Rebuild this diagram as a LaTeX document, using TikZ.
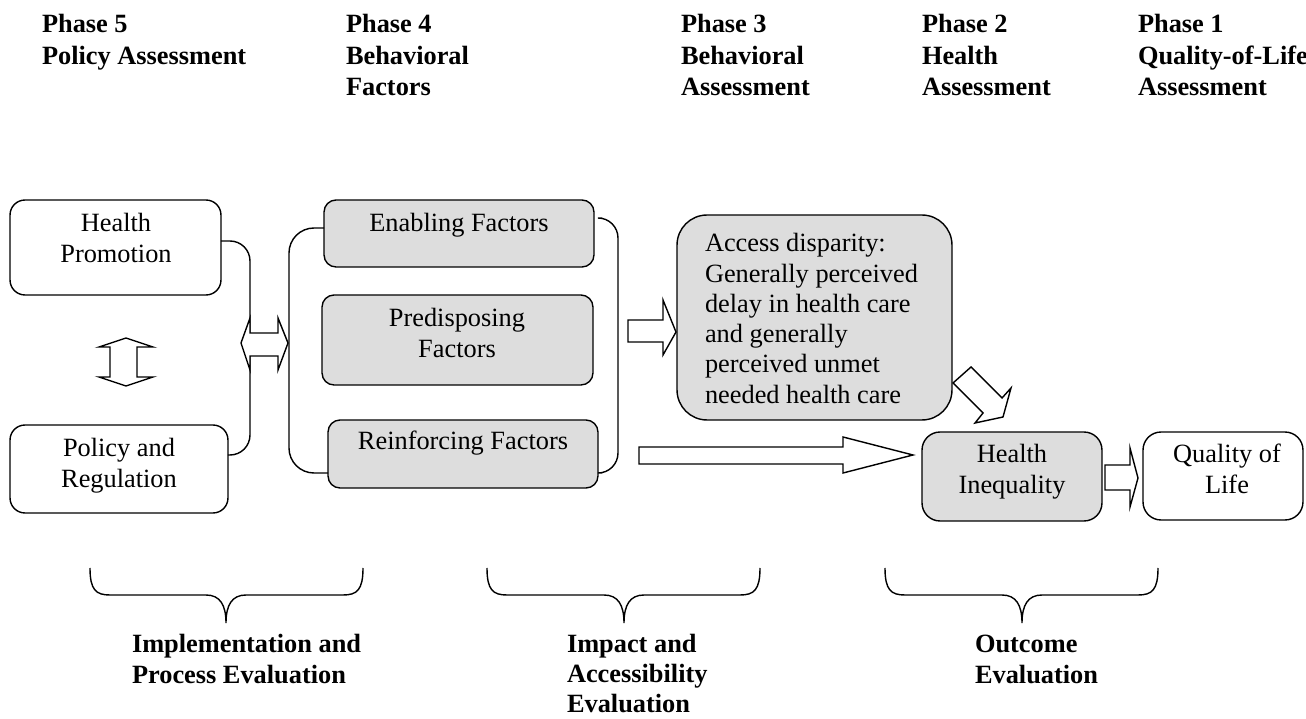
\documentclass[tikz,border=0pt]{standalone}
\usepackage{fontspec}
\setmainfont{Liberation Serif}
\definecolor{boxgray}{RGB}{221,221,221}
\newcommand\mlc[1]{\begin{tabular}[t]{@{}c@{}}#1\end{tabular}}
\newcommand\mll[1]{\begin{tabular}[t]{@{}l@{}}#1\end{tabular}}
\newcommand\evbrace[3]{\draw[conn] (#1,568) .. controls (#1,590) and (#1+6,595) .. (#1+20,595) -- (#3-20,595) .. controls (#3-6,595) and (#3,605) .. (#3,623) .. controls (#3,605) and (#3+6,595) .. (#3+20,595) -- (#2-20,595) .. controls (#2-6,595) and (#2,590) .. (#2,568);}
\begin{document}
\begin{tikzpicture}[x=0.02cm,y=-0.02cm,
  wbox/.style={draw, fill=white, inner sep=0pt, outer sep=0pt, line width=0.8pt},
  gbox/.style={wbox, fill=boxgray},
  txt/.style={inner sep=0pt, outer sep=0pt, font=\fontsize{15}{17.2}\selectfont},
  hdr/.style={inner sep=0pt, outer sep=0pt, font=\fontsize{15}{17.7}\selectfont\bfseries, anchor=base west},
  blk/.style={draw, fill=white, line width=0.8pt, line join=miter},
  conn/.style={draw, line width=0.8pt}]
\useasboundingbox (0,0) rectangle (1306,719);

% headers
\node[hdr] (h5) at (42,33) {\mll{Phase 5\\Policy Assessment}};
\node[hdr] (h4) at (346,33) {\mll{Phase 4\\Behavioral\\Factors}};
\node[hdr] (h3) at (681,33) {\mll{Phase 3\\Behavioral\\Assessment}};
\node[hdr] (h2) at (922,33) {\mll{Phase 2\\Health\\Assessment}};
\node[hdr] (h1) at (1138,33) {\mll{Phase 1\\Quality-of-Life\\Assessment}};

% boxes
\node[wbox, rounded corners=0.3cm, minimum width=4.22cm, minimum height=1.9cm] (hp) at (115.5,247.5) {};
\node[wbox, rounded corners=0.3cm, minimum width=4.36cm, minimum height=1.76cm] (pr) at (119,469) {};
\node[gbox, rounded corners=0.24cm, minimum width=5.4cm, minimum height=1.34cm] (en) at (459,233.5) {};
\node[gbox, rounded corners=0.24cm, minimum width=5.42cm, minimum height=1.8cm] (pd) at (457.5,340) {};
\node[gbox, rounded corners=0.24cm, minimum width=5.4cm, minimum height=1.36cm] (rf) at (463,454) {};
\node[gbox, rounded corners=0.6cm, minimum width=5.5cm, minimum height=4.1cm] (ac) at (814.5,317.5) {};
\node[gbox, rounded corners=0.36cm, minimum width=3.6cm, minimum height=1.78cm] (hi) at (1012,476.5) {};
\node[wbox, rounded corners=0.36cm, minimum width=3.2cm, minimum height=1.76cm] (ql) at (1223,476) {};

% brackets
\draw[conn, rounded corners=0.4cm] ([yshift=0.13cm]hp.east) -- (250,241) -- (250,455) -- ([yshift=0.28cm]pr.east);
\draw[conn, rounded corners=0.5cm] ([yshift=0.11cm]en.west) -- (289,228) -- (289,473) -- ([yshift=-0.38cm]rf.west);
\coordinate (r1) at (602,218);
\coordinate (r2) at (602,473);
\draw[conn, rounded corners=0.4cm] (r1) -- (618,218) -- (618,473) -- (r2);

% texts
\node[txt, anchor=base] (thp) at (116,232) {\mlc{Health\\Promotion}};
\node[txt, anchor=base] (tpr) at (119,457) {\mlc{Policy and\\Regulation}};
\node[txt, anchor=base] (ten) at (459,232) {Enabling Factors};
\node[txt, anchor=base] (tpd) at (457,327) {\mlc{Predisposing\\Factors}};
\node[txt, anchor=base] (trf) at (463,450) {Reinforcing Factors};
\node[txt, anchor=base west] (tac) at (705,252) {\mll{Access disparity:\\Generally perceived\\delay in health care\\and generally\\perceived unmet\\needed health care}};
\node[txt, anchor=base] (thi) at (1012,463) {\mlc{Health\\Inequality}};
\node[txt, anchor=base] (tql) at (1227,463) {\mlc{Quality of\\Life}};

% block arrows
\draw[blk] (126,338) -- (153,347) -- (137,347) -- (137,377) -- (153,377) -- (126,386) -- (99,377) -- (110,377) -- (110,347) -- (99,347) -- cycle;
\draw[blk] (241,343) -- (250,318) -- (250,333) -- (278,333) -- (278,318) -- (288,343) -- (278,370) -- (278,356) -- (250,356) -- (250,370) -- cycle;
\draw[blk] (628,320) -- (663,320) -- (663,300) -- (676,332) -- (663,355) -- (663,342) -- (628,342) -- cycle;
\draw[blk] (639,447) -- (843,447) -- (843,437) -- (913,455) -- (843,473) -- (843,464) -- (639,464) -- cycle;
\draw[blk] (1105,465) -- (1130,465) -- (1130,448) -- (1138,478) -- (1130,507) -- (1130,490) -- (1105,490) -- cycle;
\draw[blk] (953,383) -- (971,367) -- (1002,398) -- (1011,388) -- (1003,417) -- (975,423) -- (983,413) -- cycle;

% bottom braces
\evbrace{90}{363}{226}
\evbrace{487}{760}{624}
\evbrace{885}{1158}{1022}

% bottom labels
\node[hdr] (b1) at (132,652) {\mll{Implementation and\\Process Evaluation}};
\node[hdr, font=\fontsize{15}{17.2}\selectfont\bfseries] (b2) at (567,652) {\mll{Impact and\\Accessibility\\Evaluation}};
\node[hdr] (b3) at (975,652) {\mll{Outcome\\Evaluation}};
\end{tikzpicture}
\end{document}
